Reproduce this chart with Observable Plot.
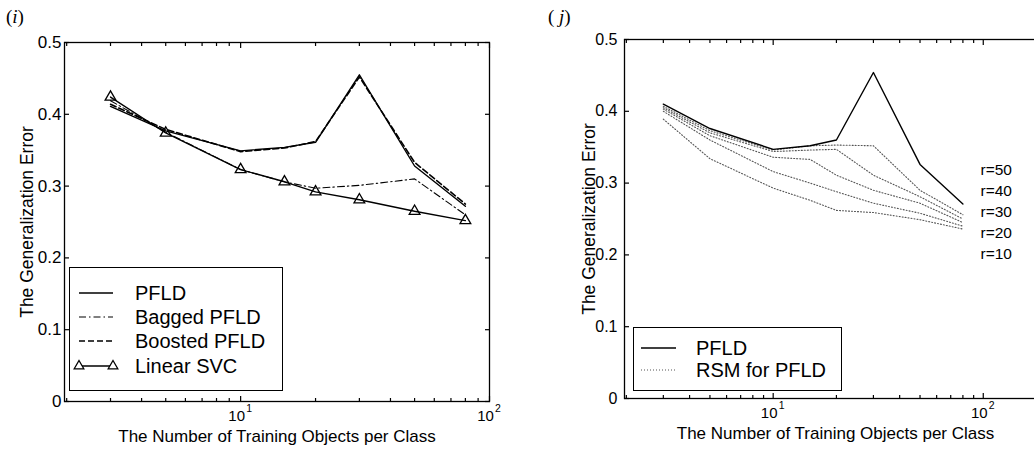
<!DOCTYPE html>
<html>
<head>
<meta charset="utf-8">
<script src="https://cdn.jsdelivr.net/npm/d3@7"></script>
<script src="https://cdn.jsdelivr.net/npm/@observablehq/plot@0.6"></script>
<style>
  html, body { margin: 0; padding: 0; background: #fff; width: 1034px; height: 453px; overflow: hidden; }
  #wrap { position: relative; width: 1034px; height: 453px; overflow: hidden; font-family: "Liberation Sans", Arial, sans-serif; }
  .panel { position: absolute; top: 0; }
  .panel svg { max-width: none !important; }
  .tag { position: absolute; font-family: "Liberation Serif", "DejaVu Serif", serif; font-size: 19px; color: #000; }
  .legend { position: absolute; }
</style>
</head>
<body>
<div id="wrap">
  <div id="left" class="panel" style="left:0; width:520px;"></div>
  <div id="right" class="panel" style="left:514px; width:540px;"></div>
  <div class="tag" style="left:6px; top:6px;">(<i>i</i>)</div>
  <div class="tag" style="left:548px; top:6px;">(<i> j</i>)</div>
</div>
<script>
// ---------- data ----------
const trainSizes = [3, 5, 10, 15, 20, 30, 50, 80];

// panel (i)
const pfldI    = [0.411, 0.377, 0.349, 0.354, 0.361, 0.455, 0.328, 0.272];
const baggedI  = [0.419, 0.375, 0.323, 0.306, 0.297, 0.301, 0.310, 0.260];
const boostedI = [0.414, 0.379, 0.348, 0.353, 0.362, 0.452, 0.333, 0.275];
const svcI     = [0.424, 0.374, 0.323, 0.306, 0.292, 0.281, 0.265, 0.252];

// panel (j)
const pfldJ = [0.410, 0.376, 0.347, 0.352, 0.360, 0.454, 0.326, 0.271];
const rsmR50 = [0.407, 0.373, 0.346, 0.352, 0.353, 0.352, 0.290, 0.256];
const rsmR40 = [0.405, 0.370, 0.344, 0.346, 0.347, 0.311, 0.281, 0.250];
const rsmR30 = [0.403, 0.366, 0.336, 0.333, 0.311, 0.290, 0.272, 0.245];
const rsmR20 = [0.400, 0.360, 0.316, 0.300, 0.288, 0.272, 0.258, 0.240];
const rsmR10 = [0.389, 0.334, 0.293, 0.276, 0.262, 0.259, 0.249, 0.236];
const rLabels = ["r=50", "r=40", "r=30", "r=20", "r=10"];
const rLabelY = [0.318, 0.289, 0.260, 0.231, 0.201];

const yTicks = [0, 0.1, 0.2, 0.3, 0.4, 0.5];
const xMajor = [10, 100];
const xMajorExp = ["1", "2"];
const xMinor = [2, 3, 4, 5, 6, 7, 8, 9, 20, 30, 40, 50, 60, 70, 80, 90, 200];

const xLabel = "The Number of Training Objects per Class";
const yLabel = "The Generalization Error";

// ---------- helpers ----------
const toRows = (vals, series) => trainSizes.map((x, i) => ({x, y: vals[i], series}));
const fmtY = d => d === 0 ? "0" : d.toFixed(1);
const tickOnly = {fill: "none", label: null, stroke: "#000", strokeWidth: 1.2};

function frameMarks(xDomainMax, ytickPad, yFont) {
  const minor = xMinor.filter(d => d <= xDomainMax);
  const expRows = xMajor.map((d, i) => ({x: d, e: xMajorExp[i]}));
  return [
    Plot.frame({stroke: "#000", strokeWidth: 1.3}),
    // inward ticks, all four sides
    Plot.axisX({anchor: "bottom", ticks: xMajor, tickSize: -5, ...tickOnly}),
    Plot.axisX({anchor: "top", ticks: xMajor, tickSize: -5, ...tickOnly}),
    Plot.axisX({anchor: "bottom", ticks: minor, tickSize: -3, ...tickOnly}),
    Plot.axisX({anchor: "top", ticks: minor, tickSize: -3, ...tickOnly}),
    Plot.axisY({anchor: "left", ticks: yTicks, tickSize: -5, ...tickOnly}),
    Plot.axisY({anchor: "right", ticks: yTicks, tickSize: -5, ...tickOnly}),
    // y tick labels
    Plot.text(yTicks, {y: d => d, text: fmtY, frameAnchor: "left", textAnchor: "end", lineAnchor: "middle", dx: -ytickPad, fontSize: yFont}),
    // x tick labels with superscript exponent
    Plot.text(expRows, {x: "x", text: () => "10", frameAnchor: "bottom", lineAnchor: "middle", dy: 15, dx: -4, fontSize: 15}),
    Plot.text(expRows, {x: "x", text: "e", frameAnchor: "bottom", lineAnchor: "middle", dy: 7, dx: 8.5, fontSize: 10.5}),
    // axis title
    Plot.text([xLabel], {text: d => d, frameAnchor: "bottom", lineAnchor: "middle", textAnchor: "middle", dy: 35, fontSize: 17}),
  ];
}

// ---------- panel (i) ----------
const rowsI = [
  ...toRows(pfldI, "PFLD"),
  ...toRows(baggedI, "Bagged PFLD"),
  ...toRows(boostedI, "Boosted PFLD"),
  ...toRows(svcI, "Linear SVC"),
];
const plotI = Plot.plot({
  width: 520, height: 453,
  marginLeft: 64, marginRight: 31, marginTop: 42, marginBottom: 52,
  style: {fontFamily: "Liberation Sans, Arial, sans-serif", color: "#000", background: "transparent", maxWidth: "none"},
  x: {type: "log", domain: [1.96, 100], axis: null},
  y: {domain: [0, 0.5], axis: null},
  marks: [
    ...frameMarks(100, 3, 17),
    Plot.text([yLabel], {text: d => d, frameAnchor: "left", textAnchor: "middle", lineAnchor: "middle", rotate: -90, dx: -37, fontSize: 17.5}),
    Plot.line(rowsI.filter(d => d.series === "Bagged PFLD"), {x: "x", y: "y", stroke: "#000", strokeWidth: 1.1, strokeDasharray: "7,3,1.5,3"}),
    Plot.line(rowsI.filter(d => d.series === "Boosted PFLD"), {x: "x", y: "y", stroke: "#000", strokeWidth: 1.6, strokeDasharray: "6,3"}),
    Plot.line(rowsI.filter(d => d.series === "PFLD"), {x: "x", y: "y", stroke: "#000", strokeWidth: 1.4}),
    Plot.line(rowsI.filter(d => d.series === "Linear SVC"), {x: "x", y: "y", stroke: "#000", strokeWidth: 1.4}),
    Plot.dot(rowsI.filter(d => d.series === "Linear SVC"), {x: "x", y: "y", symbol: "triangle", r: 4, stroke: "#000", strokeWidth: 1.3, fill: "none"}),
  ]
});
document.getElementById("left").appendChild(plotI);

// ---------- panel (j) ----------
const rsmSeries = [rsmR50, rsmR40, rsmR30, rsmR20, rsmR10];
const rowsJ = [
  ...toRows(pfldJ, "PFLD"),
  ...rsmSeries.flatMap((s, i) => toRows(s, rLabels[i])),
];
const plotJ = Plot.plot({
  width: 540, height: 453,
  marginLeft: 110, marginRight: 8, marginTop: 39, marginBottom: 55,
  style: {fontFamily: "Liberation Sans, Arial, sans-serif", color: "#000", background: "transparent", maxWidth: "none"},
  x: {type: "log", domain: [1.96, 200], axis: null},
  y: {domain: [0, 0.5], axis: null},
  marks: [
    ...frameMarks(200, 7, 16),
    Plot.text([yLabel], {text: d => d, frameAnchor: "left", textAnchor: "middle", lineAnchor: "middle", rotate: -90, dx: -35, fontSize: 17.5}),
    Plot.line(rowsJ.filter(d => d.series !== "PFLD"), {x: "x", y: "y", z: "series", stroke: "#555", strokeWidth: 1.1, strokeDasharray: "1,2"}),
    Plot.line(rowsJ.filter(d => d.series === "PFLD"), {x: "x", y: "y", stroke: "#000", strokeWidth: 1.4}),
    Plot.text(rLabels, {x: 97, y: (d, i) => rLabelY[i], text: d => d, textAnchor: "start", lineAnchor: "middle", fontSize: 15.5}),
  ]
});
document.getElementById("right").appendChild(plotJ);

// ---------- legends (boxes inside the axes) ----------
function legend(left, top, w, h, items) {
  const svg = d3.select("#wrap").append("svg")
    .attr("class", "legend")
    .style("left", left + "px").style("top", top + "px")
    .attr("width", w + 2).attr("height", h + 2);
  svg.append("rect").attr("x", 0.5).attr("y", 0.5).attr("width", w).attr("height", h)
    .attr("fill", "#fff").attr("stroke", "#000").attr("stroke-width", 1);
  items.forEach(it => {
    const g = svg.append("g").attr("transform", `translate(0,${it.y})`);
    g.append("line").attr("x1", it.x1).attr("x2", it.x2).attr("y1", 0).attr("y2", 0)
      .attr("stroke", it.stroke || "#000").attr("stroke-width", it.sw || 1.4)
      .attr("stroke-dasharray", it.dash || null);
    if (it.marker) {
      [it.x1, it.x2].forEach(cx => {
        g.append("path").attr("d", d3.symbol(d3.symbolTriangle, 40)()).attr("transform", `translate(${cx},0)`)
          .attr("fill", "#fff").attr("stroke", "#000").attr("stroke-width", 1.3);
      });
    }
    g.append("text").attr("x", it.tx).attr("y", 0).attr("dy", "0.35em")
      .attr("font-family", "Liberation Sans, Arial, sans-serif").attr("font-size", 20).text(it.label);
  });
}
legend(69, 267, 213, 123, [
  {label: "PFLD", y: 26, x1: 10, x2: 44, tx: 66},
  {label: "Bagged PFLD", y: 50, x1: 10, x2: 44, tx: 66, sw: 1.1, dash: "7,3,1.5,3"},
  {label: "Boosted PFLD", y: 74, x1: 10, x2: 44, tx: 66, sw: 1.6, dash: "6,3"},
  {label: "Linear SVC", y: 99, x1: 10, x2: 44, tx: 66, marker: true},
]);
legend(633, 327, 208, 63, [
  {label: "PFLD", y: 21, x1: 8, x2: 43, tx: 63},
  {label: "RSM for PFLD", y: 43, x1: 8, x2: 43, tx: 63, stroke: "#555", sw: 1.1, dash: "1,2"},
]);
</script>
</body>
</html>
